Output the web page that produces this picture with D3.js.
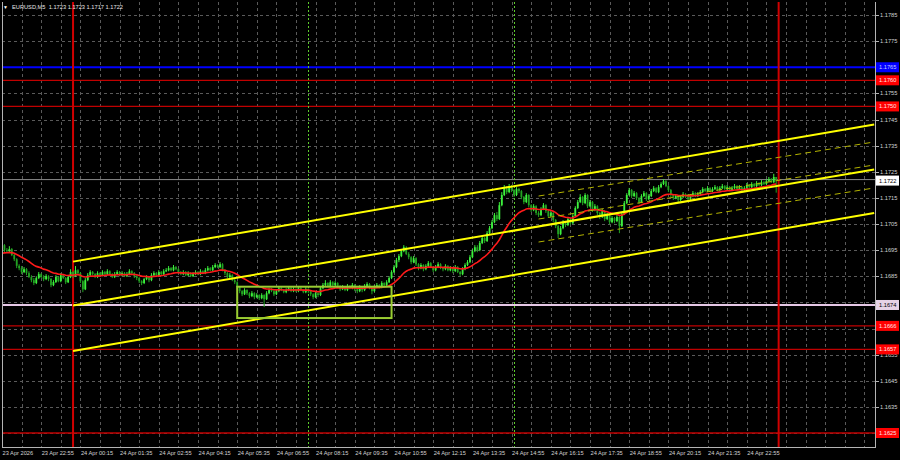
<!DOCTYPE html>
<html><head><meta charset="utf-8">
<script src="https://cdn.jsdelivr.net/npm/d3@7"></script>
<style>
html,body{margin:0;padding:0;background:#000;}
svg{display:block;}
text{font-family:"Liberation Sans",Arial,sans-serif;}
</style></head><body>
<svg id="c" width="900" height="460"></svg>
<script>
// ---------------- DATA ----------------
const symbolTitle = "EURUSD,M5  1.1723 1.1723 1.1717 1.1722";
const firstBarTime = "2026-04-23T21:35:00Z";
const barMinutes = 5;
const firstOpen = 1.16975;
const closes = [
1.16969,1.16950,1.16946,1.16954,1.16931,1.16915,1.16890,1.16881,1.16866,1.16877,
1.16862,1.16847,1.16835,1.16824,1.16843,1.16858,1.16847,1.16839,1.16850,1.16840,
1.16816,1.16828,1.16847,1.16831,1.16854,1.16843,1.16827,1.16847,1.16866,1.16850,
1.16873,1.16862,1.16831,1.16800,1.16835,1.16854,1.16866,1.16858,1.16847,1.16862,
1.16854,1.16866,1.16858,1.16869,1.16858,1.16847,1.16858,1.16866,1.16854,1.16862,
1.16850,1.16858,1.16869,1.16862,1.16850,1.16843,1.16831,1.16824,1.16839,1.16847,
1.16835,1.16854,1.16862,1.16854,1.16866,1.16858,1.16869,1.16873,1.16881,1.16873,
1.16885,1.16877,1.16866,1.16858,1.16866,1.16854,1.16862,1.16850,1.16858,1.16866,
1.16858,1.16869,1.16862,1.16873,1.16881,1.16873,1.16885,1.16893,1.16885,1.16896,
1.16873,1.16862,1.16847,1.16854,1.16835,1.16827,1.16808,1.16793,1.16781,1.16797,
1.16785,1.16774,1.16785,1.16770,1.16778,1.16766,1.16778,1.16762,1.16785,1.16797,
1.16793,1.16781,1.16793,1.16804,1.16797,1.16789,1.16797,1.16804,1.16793,1.16800,
1.16793,1.16804,1.16797,1.16789,1.16800,1.16793,1.16781,1.16770,1.16785,1.16778,
1.16804,1.16816,1.16824,1.16812,1.16827,1.16816,1.16824,1.16812,1.16800,1.16808,
1.16797,1.16812,1.16804,1.16816,1.16800,1.16793,1.16808,1.16797,1.16812,1.16820,
1.16804,1.16793,1.16808,1.16816,1.16808,1.16824,1.16816,1.16827,1.16843,1.16866,
1.16885,1.16912,1.16927,1.16946,1.16961,1.16935,1.16923,1.16904,1.16919,1.16896,
1.16881,1.16893,1.16877,1.16889,1.16900,1.16885,1.16873,1.16885,1.16896,1.16881,
1.16877,1.16889,1.16873,1.16881,1.16870,1.16885,1.16866,1.16858,1.16877,1.16893,
1.16904,1.16923,1.16946,1.16961,1.16950,1.16977,1.16996,1.16985,1.17015,1.17034,
1.17057,1.17084,1.17069,1.17122,1.17161,1.17187,1.17172,1.17195,1.17180,1.17161,
1.17184,1.17176,1.17153,1.17134,1.17161,1.17122,1.17103,1.17118,1.17092,1.17084,
1.17107,1.17122,1.17099,1.17080,1.17092,1.17065,1.17042,1.17011,1.17034,1.17057,
1.17046,1.17069,1.17053,1.17080,1.17111,1.17134,1.17153,1.17130,1.17161,1.17118,
1.17134,1.17103,1.17118,1.17092,1.17077,1.17099,1.17069,1.17084,1.17057,1.17073,
1.17061,1.17077,1.17042,1.17088,1.17130,1.17161,1.17180,1.17157,1.17168,1.17149,
1.17134,1.17157,1.17168,1.17145,1.17157,1.17176,1.17187,1.17172,1.17191,1.17203,
1.17214,1.17195,1.17180,1.17161,1.17149,1.17157,1.17142,1.17153,1.17164,1.17153,
1.17145,1.17157,1.17168,1.17157,1.17164,1.17172,1.17184,1.17176,1.17187,1.17176,
1.17184,1.17191,1.17180,1.17187,1.17195,1.17184,1.17191,1.17180,1.17187,1.17195,
1.17184,1.17191,1.17180,1.17187,1.17199,1.17191,1.17203,1.17195,1.17207,1.17199,
1.17210,1.17203,1.17214,1.17222,1.17210,1.17230,1.17220];
const highs = [
1.16988,1.16973,1.16958,1.16965,1.16958,1.16935,1.16919,1.16896,1.16889,1.16885,
1.16881,1.16869,1.16854,1.16843,1.16850,1.16866,1.16862,1.16854,1.16858,1.16854,
1.16843,1.16835,1.16854,1.16850,1.16862,1.16858,1.16847,1.16854,1.16877,1.16870,
1.16889,1.16877,1.16866,1.16835,1.16843,1.16862,1.16873,1.16870,1.16862,1.16869,
1.16866,1.16873,1.16870,1.16877,1.16873,1.16862,1.16866,1.16873,1.16870,1.16869,
1.16866,1.16866,1.16877,1.16873,1.16866,1.16854,1.16847,1.16835,1.16843,1.16854,
1.16850,1.16862,1.16869,1.16866,1.16873,1.16870,1.16877,1.16881,1.16889,1.16885,
1.16893,1.16889,1.16881,1.16870,1.16873,1.16870,1.16869,1.16866,1.16866,1.16873,
1.16870,1.16877,1.16873,1.16881,1.16889,1.16885,1.16893,1.16900,1.16896,1.16904,
1.16900,1.16877,1.16866,1.16862,1.16858,1.16843,1.16831,1.16812,1.16797,1.16804,
1.16800,1.16789,1.16793,1.16789,1.16785,1.16781,1.16785,1.16781,1.16793,1.16804,
1.16804,1.16797,1.16800,1.16812,1.16808,1.16800,1.16804,1.16812,1.16808,1.16808,
1.16804,1.16812,1.16808,1.16800,1.16808,1.16804,1.16797,1.16785,1.16793,1.16789,
1.16812,1.16824,1.16835,1.16827,1.16835,1.16831,1.16831,1.16827,1.16816,1.16816,
1.16812,1.16820,1.16816,1.16824,1.16820,1.16804,1.16816,1.16812,1.16820,1.16827,
1.16824,1.16808,1.16816,1.16824,1.16820,1.16831,1.16827,1.16835,1.16850,1.16873,
1.16893,1.16920,1.16935,1.16954,1.16969,1.16965,1.16942,1.16927,1.16927,1.16923,
1.16900,1.16900,1.16896,1.16896,1.16908,1.16904,1.16889,1.16893,1.16904,1.16900,
1.16885,1.16896,1.16893,1.16889,1.16885,1.16893,1.16889,1.16870,1.16885,1.16900,
1.16912,1.16931,1.16954,1.16969,1.16969,1.16985,1.17004,1.17000,1.17023,1.17042,
1.17065,1.17092,1.17096,1.17134,1.17172,1.17199,1.17195,1.17203,1.17199,1.17184,
1.17191,1.17188,1.17180,1.17157,1.17168,1.17164,1.17126,1.17126,1.17122,1.17099,
1.17114,1.17130,1.17126,1.17103,1.17099,1.17096,1.17069,1.17046,1.17042,1.17065,
1.17061,1.17077,1.17073,1.17088,1.17118,1.17142,1.17164,1.17157,1.17168,1.17164,
1.17142,1.17138,1.17126,1.17122,1.17096,1.17107,1.17103,1.17092,1.17088,1.17080,
1.17077,1.17084,1.17080,1.17096,1.17138,1.17168,1.17188,1.17184,1.17176,1.17172,
1.17153,1.17164,1.17176,1.17172,1.17164,1.17184,1.17195,1.17191,1.17199,1.17210,
1.17222,1.17218,1.17199,1.17184,1.17164,1.17164,1.17161,1.17161,1.17172,1.17168,
1.17157,1.17164,1.17176,1.17172,1.17172,1.17180,1.17191,1.17188,1.17195,1.17191,
1.17191,1.17199,1.17195,1.17195,1.17203,1.17199,1.17199,1.17195,1.17195,1.17203,
1.17199,1.17199,1.17195,1.17195,1.17207,1.17203,1.17210,1.17207,1.17214,1.17210,
1.17218,1.17214,1.17222,1.17230,1.17226,1.17242,1.17230];
const lows = [
1.16962,1.16942,1.16939,1.16942,1.16927,1.16908,1.16881,1.16873,1.16858,1.16862,
1.16854,1.16843,1.16827,1.16816,1.16820,1.16839,1.16843,1.16831,1.16835,1.16831,
1.16808,1.16812,1.16824,1.16827,1.16827,1.16839,1.16820,1.16824,1.16843,1.16843,
1.16847,1.16854,1.16824,1.16789,1.16797,1.16831,1.16850,1.16854,1.16843,1.16843,
1.16850,1.16850,1.16854,1.16854,1.16854,1.16843,1.16843,1.16854,1.16850,1.16850,
1.16847,1.16847,1.16854,1.16858,1.16843,1.16835,1.16824,1.16816,1.16820,1.16835,
1.16827,1.16831,1.16850,1.16850,1.16850,1.16854,1.16854,1.16866,1.16869,1.16869,
1.16869,1.16873,1.16862,1.16854,1.16854,1.16850,1.16850,1.16847,1.16847,1.16854,
1.16854,1.16854,1.16858,1.16858,1.16869,1.16869,1.16869,1.16881,1.16881,1.16881,
1.16869,1.16854,1.16843,1.16843,1.16831,1.16820,1.16800,1.16785,1.16774,1.16778,
1.16778,1.16766,1.16770,1.16762,1.16766,1.16759,1.16762,1.16732,1.16759,1.16781,
1.16789,1.16774,1.16778,1.16789,1.16793,1.16785,1.16785,1.16793,1.16789,1.16789,
1.16789,1.16789,1.16793,1.16785,1.16785,1.16785,1.16774,1.16762,1.16766,1.16770,
1.16774,1.16800,1.16812,1.16808,1.16808,1.16812,1.16812,1.16808,1.16793,1.16797,
1.16793,1.16793,1.16800,1.16800,1.16793,1.16785,1.16789,1.16789,1.16793,1.16808,
1.16800,1.16781,1.16789,1.16804,1.16804,1.16804,1.16812,1.16812,1.16824,1.16839,
1.16862,1.16881,1.16904,1.16923,1.16942,1.16931,1.16915,1.16896,1.16900,1.16889,
1.16873,1.16877,1.16869,1.16873,1.16885,1.16881,1.16866,1.16869,1.16881,1.16877,
1.16869,1.16873,1.16869,1.16869,1.16862,1.16866,1.16862,1.16850,1.16854,1.16873,
1.16889,1.16900,1.16919,1.16942,1.16942,1.16946,1.16973,1.16977,1.16981,1.17011,
1.17030,1.17053,1.17061,1.17065,1.17118,1.17157,1.17164,1.17168,1.17172,1.17153,
1.17157,1.17168,1.17145,1.17126,1.17130,1.17114,1.17096,1.17099,1.17084,1.17077,
1.17080,1.17103,1.17092,1.17073,1.17077,1.17057,1.17034,1.16996,1.17007,1.17030,
1.17038,1.17042,1.17046,1.17049,1.17077,1.17107,1.17130,1.17122,1.17126,1.17111,
1.17114,1.17096,1.17099,1.17084,1.17069,1.17073,1.17061,1.17065,1.17049,1.17053,
1.17053,1.17057,1.17015,1.17038,1.17084,1.17126,1.17157,1.17149,1.17153,1.17142,
1.17126,1.17130,1.17153,1.17138,1.17142,1.17153,1.17172,1.17168,1.17168,1.17187,
1.17199,1.17191,1.17172,1.17153,1.17142,1.17145,1.17134,1.17138,1.17149,1.17149,
1.17138,1.17142,1.17153,1.17153,1.17153,1.17161,1.17168,1.17172,1.17172,1.17172,
1.17172,1.17180,1.17176,1.17176,1.17184,1.17180,1.17180,1.17176,1.17176,1.17184,
1.17180,1.17180,1.17176,1.17176,1.17184,1.17187,1.17187,1.17191,1.17191,1.17195,
1.17195,1.17199,1.17199,1.17210,1.17207,1.17207,1.17170];
const maPeriod = 20;
const maSeed = 1.16935;

const priceTicks = [1.1785,1.1775,1.1765,1.1755,1.1745,1.1735,1.1725,1.1715,1.1705,1.1695,1.1685,1.1675,1.1665,1.1655,1.1645,1.1635,1.1625];
const timeTickTimes = ["2026-04-23T21:35","2026-04-23T22:55","2026-04-24T00:15","2026-04-24T01:35","2026-04-24T02:55","2026-04-24T04:15","2026-04-24T05:35","2026-04-24T06:55","2026-04-24T08:15","2026-04-24T09:35","2026-04-24T10:55","2026-04-24T12:15","2026-04-24T13:35","2026-04-24T14:55","2026-04-24T16:15","2026-04-24T17:35","2026-04-24T18:55","2026-04-24T20:15","2026-04-24T21:35","2026-04-24T22:55"];
const timeTickLabels = ["23 Apr 2026","23 Apr 22:55","24 Apr 00:15","24 Apr 01:35","24 Apr 02:55","24 Apr 04:15","24 Apr 05:35","24 Apr 06:55","24 Apr 08:15","24 Apr 09:35","24 Apr 10:55","24 Apr 12:15","24 Apr 13:35","24 Apr 14:55","24 Apr 16:15","24 Apr 17:35","24 Apr 18:55","24 Apr 20:15","24 Apr 21:35","24 Apr 22:55"];

const levelPrices = [1.1765, 1.1760, 1.1750, 1.1674, 1.1666, 1.1657, 1.1625];
const levelLabels = ["1.1765","1.1760","1.1750","1.1674","1.1666","1.1657","1.1625"];
const levelKinds  = ["blue","red","red","pink","red","red","red"];
const currentPrice = 1.1722;

const dayLineTimes = ["2026-04-24T00:00","2026-04-25T00:00"];
const sessionLineTimes = ["2026-04-24T08:00","2026-04-24T15:00"];

const channelTimes = ["2026-04-24T00:00","2026-04-25T03:15"];
const channelStartPrices = [1.16906, 1.16738, 1.16564];
const channelEndPrices   = [1.17431, 1.17259, 1.17092];
const subChannelTimes = ["2026-04-24T15:50","2026-04-25T03:15"];
const subChannelStartPrices = [1.17157, 1.17069, 1.16981];
const subChannelEndPrices   = [1.17364, 1.17276, 1.17188];

const boxTimes = ["2026-04-24T05:35","2026-04-24T10:50"];
const boxPrices = [1.1681, 1.1669];

const domainTimes = ["2026-04-23T21:35","2026-04-25T03:15"];

// ---------------- DRAW ----------------
const T = s => new Date(s.length === 16 ? s + ":00Z" : s);
const svg = d3.select("#c");
const L = 2, R = 875, TOP = 2, B = 447;
svg.append("rect").attr("width",900).attr("height",460).attr("fill","#000");

const x = d3.scaleUtc().domain(domainTimes.map(T)).range([2, 874.2]);
const y = d3.scaleLinear().domain([1.1625, 1.1785]).range([433, 15]);

const t0 = T(firstBarTime);
const bars = closes.map((c, i) => ({
  t: new Date(+t0 + i * barMinutes * 60000),
  o: i ? closes[i - 1] : firstOpen, h: highs[i], l: lows[i], c
}));

svg.append("defs").append("clipPath").attr("id","clip")
  .append("rect").attr("x",L).attr("y",TOP).attr("width",R-L).attr("height",B-TOP);
const g = svg.append("g").attr("clip-path","url(#clip)");

// grid
const gridCol = "#5a5a5a";
g.selectAll(".hg").data(priceTicks).join("line")
  .attr("x1",L).attr("x2",R)
  .attr("y1",d=>Math.round(y(d))+0.5).attr("y2",d=>Math.round(y(d))+0.5)
  .attr("stroke",gridCol).attr("stroke-dasharray","3,3").attr("stroke-width",1);
const gridTimes = [];
for (let t = +x.domain()[0]; t <= +x.domain()[1]; t += 40*60000) gridTimes.push(new Date(t));
g.selectAll(".vg").data(gridTimes).join("line")
  .attr("x1",d=>Math.round(x(d))+0.5).attr("x2",d=>Math.round(x(d))+0.5)
  .attr("y1",TOP).attr("y2",B)
  .attr("stroke",gridCol).attr("stroke-dasharray","3,3").attr("stroke-width",1);

// horizontal levels
const levelColor = {blue:"#0000ff", red:"#c00000", pink:"#e6c8e6"};
const levelWidth = {blue:2, red:1.3, pink:2};
g.selectAll(".lv").data(levelPrices).join("line")
  .attr("x1",L).attr("x2",R)
  .attr("y1",d=>y(d)).attr("y2",d=>y(d))
  .attr("stroke",(d,i)=>levelColor[levelKinds[i]])
  .attr("stroke-width",(d,i)=>levelWidth[levelKinds[i]]);

// current price line
g.append("line").attr("x1",L).attr("x2",R).attr("y1",y(currentPrice)).attr("y2",y(currentPrice))
  .attr("stroke","#8a8a8a").attr("stroke-width",1);

// session lines (green dotted)
g.selectAll(".ss").data(sessionLineTimes).join("line")
  .attr("x1",d=>Math.round(x(T(d)))+0.5).attr("x2",d=>Math.round(x(T(d)))+0.5)
  .attr("y1",TOP).attr("y2",B)
  .attr("stroke","#5ccc2a").attr("stroke-dasharray","2,2").attr("stroke-width",1);

// day separators (red)
g.selectAll(".dl").data(dayLineTimes).join("line")
  .attr("x1",d=>x(T(d))).attr("x2",d=>x(T(d)))
  .attr("y1",TOP).attr("y2",B)
  .attr("stroke","#d00000").attr("stroke-width",2);

// candles
const bull = "#3cf03c", bear = "#22a322";
const cg = g.append("g");
cg.selectAll(".wk").data(bars).join("line")
  .attr("x1",d=>x(d.t)).attr("x2",d=>x(d.t))
  .attr("y1",d=>y(d.h)).attr("y2",d=>y(d.l))
  .attr("stroke",d=>d.c>=d.o?bull:bear).attr("stroke-width",1);
cg.selectAll(".bd").data(bars).join("rect")
  .attr("x",d=>x(d.t)-0.9).attr("width",1.8)
  .attr("y",d=>Math.min(y(d.o),y(d.c)))
  .attr("height",d=>Math.max(1,Math.abs(y(d.o)-y(d.c))))
  .attr("fill",d=>d.c>=d.o?bull:bear);

// moving average (EMA)
const k = 2/(maPeriod+1);
let prev = maSeed;
const ma = bars.map(b => { prev = prev + k*(b.c - prev); return {t:b.t, v:prev}; });
g.append("path").datum(ma)
  .attr("d", d3.line().x(d=>x(d.t)).y(d=>y(d.v)))
  .attr("fill","none").attr("stroke","#ff1a1a").attr("stroke-width",1.6);

// main regression channel
channelStartPrices.forEach((p,i)=>{
  g.append("line")
    .attr("x1",x(T(channelTimes[0]))).attr("y1",y(p))
    .attr("x2",x(T(channelTimes[1]))).attr("y2",y(channelEndPrices[i]))
    .attr("stroke","#ffff00").attr("stroke-width",2);
});
// sub channel (dashed)
subChannelStartPrices.forEach((p,i)=>{
  g.append("line")
    .attr("x1",x(T(subChannelTimes[0]))).attr("y1",y(p))
    .attr("x2",x(T(subChannelTimes[1]))).attr("y2",y(subChannelEndPrices[i]))
    .attr("stroke","#b4b400").attr("stroke-width",1).attr("stroke-dasharray","6,4");
});

// rectangle
g.append("rect")
  .attr("x",x(T(boxTimes[0]))).attr("y",y(boxPrices[0]))
  .attr("width",x(T(boxTimes[1]))-x(T(boxTimes[0])))
  .attr("height",y(boxPrices[1])-y(boxPrices[0]))
  .attr("fill","none").attr("stroke","#9acd32").attr("stroke-width",2);

// frame
const frameCol = "#b4b4b4";
svg.append("line").attr("x1",L+0.5).attr("x2",L+0.5).attr("y1",TOP).attr("y2",B).attr("stroke",frameCol);
svg.append("line").attr("x1",R+0.5).attr("x2",R+0.5).attr("y1",TOP).attr("y2",B+0.5).attr("stroke",frameCol);
svg.append("line").attr("x1",L).attr("x2",R+1).attr("y1",B+0.5).attr("y2",B+0.5).attr("stroke",frameCol);

// right axis (tick labels hidden where a level box covers them)
const fs = 5.7;
const boxYs = levelPrices.map(p=>y(p)).concat([y(currentPrice)]);
const visibleTicks = priceTicks.filter(p => boxYs.every(by => Math.abs(by - y(p)) > 4.5));
const ra = svg.append("g");
ra.selectAll("line").data(priceTicks).join("line")
  .attr("x1",R+1).attr("x2",R+4).attr("y1",d=>Math.round(y(d))+0.5).attr("y2",d=>Math.round(y(d))+0.5)
  .attr("stroke",frameCol);
ra.selectAll("text").data(visibleTicks).join("text")
  .attr("x",880).attr("y",d=>y(d)+2).attr("font-size",fs).attr("fill","#d2d2d2")
  .text(d=>d.toFixed(4));

// level boxes
const boxFill = {blue:"#0000ff", red:"#ff0000", pink:"#e6d2e6"};
const boxText = {blue:"#c8c8ff", red:"#ffe6e6", pink:"#000"};
const lb = svg.append("g");
levelPrices.forEach((p,i)=>{
  const k2 = levelKinds[i];
  lb.append("rect").attr("x",876).attr("y",y(p)-5).attr("width",23).attr("height",10).attr("fill",boxFill[k2]);
  lb.append("text").attr("x",879).attr("y",y(p)+2).attr("font-size",fs).attr("fill",boxText[k2]).text(levelLabels[i]);
});
lb.append("rect").attr("x",876).attr("y",y(currentPrice)-4).attr("width",23).attr("height",10).attr("fill","#fff");
lb.append("text").attr("x",879).attr("y",y(currentPrice)+3).attr("font-size",fs).attr("fill","#000").text(currentPrice.toFixed(4));

// bottom axis labels
svg.selectAll(".tl").data(timeTickTimes).join("text")
  .attr("x",d=>x(T(d))+0.5).attr("y",455).attr("font-size",fs).attr("fill","#d2d2d2")
  .text((d,i)=>timeTickLabels[i]);

// title
svg.append("text").attr("x",3).attr("y",8.5).attr("font-size",5).attr("fill","#fff").attr("font-family","DejaVu Sans").text("▼");
svg.append("text").attr("x",12).attr("y",8.5).attr("font-size",fs).attr("fill","#e6e6e6").attr("xml:space","preserve").text(symbolTitle);
</script>
</body></html>
